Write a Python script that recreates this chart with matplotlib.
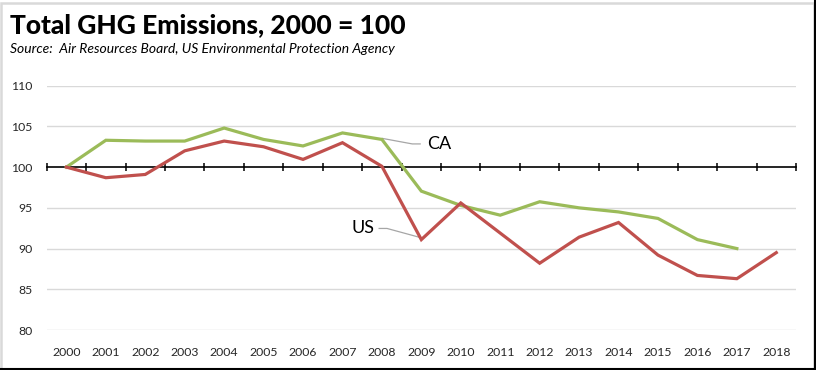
import matplotlib
matplotlib.use("Agg")
import matplotlib.pyplot as plt
import numpy as np
from matplotlib.ticker import FixedLocator
from matplotlib.patches import Rectangle
from matplotlib.lines import Line2D

years = [str(y) for y in range(2000, 2019)]
ca = [100, 103.3, 103.2, 103.2, 104.8, 103.4, 102.6, 104.2, 103.4, 97.05,
      95.3, 94.1, 95.75, 95.0, 94.5, 93.7, 91.1, 90.0]
us = [100, 98.7, 99.1, 102.0, 103.2, 102.5, 100.95, 103.0, 100.1, 91.1,
      95.6, 91.9, 88.2, 91.4, 93.2, 89.2, 86.7, 86.3, 89.5]
yticks = [80, 85, 90, 95, 100, 105, 110]

FONT = ["Lato", "DejaVu Sans"]
plt.rcParams['font.family'] = FONT

fig = plt.figure(figsize=(8.16, 3.70), dpi=100)
ax = fig.add_axes([0.0572, 0.1081, 0.9183, 0.6603])

x = np.arange(len(years))
green = "#9BBB59"
red = "#C0504D"
ax.plot(x[:len(ca)], ca, color=green, lw=2.3, solid_joinstyle="miter", zorder=3)
ax.plot(x[:len(us)], us, color=red, lw=2.3, solid_joinstyle="miter", zorder=4)

ax.set_xlim(-0.5, len(years) - 0.5)
ax.set_ylim(80, 110)
ax.set_yticks(yticks)
for yv in yticks:
    if yv != 100:
        ax.axhline(yv, color="#D9D9D9", lw=1.0, zorder=1)

for s in ["left", "right", "bottom"]:
    ax.spines[s].set_visible(False)
ax.spines["top"].set_position(("data", 100))
ax.spines["top"].set_color("black")
ax.spines["top"].set_linewidth(1.2)
ax.spines["top"].set_zorder(2)

ax.set_xticks(x)
ax.set_xticklabels(years)
ax.xaxis.set_minor_locator(FixedLocator(np.arange(-0.5, len(years), 1.0)))
ax.tick_params(axis="x", which="major", bottom=True, top=False, length=0, pad=12,
               labelsize=8.8, labelcolor="#262626")
ax.tick_params(axis="x", which="minor", bottom=False, top=True, direction="inout",
               length=5.5, width=1.1, color="black")
ax.tick_params(axis="y", length=0, pad=10, labelsize=8.8, labelcolor="#262626")

# leader lines and labels
ax.plot([8.01, 8.77, 8.97], [103.53, 102.85, 102.85], color="#A6A6A6", lw=0.9, zorder=2)
ax.text(9.15, 102.85, "CA", fontsize=13, va="center", ha="left", color="black")
ax.plot([7.93, 8.13, 8.97], [92.47, 92.47, 91.36], color="#A6A6A6", lw=0.9, zorder=2)
ax.text(7.8, 92.47, "US", fontsize=13, va="center", ha="right", color="black")

fig.text(10 / 816, 1 - 33 / 370, "Total GHG Emissions, 2000 = 100", fontsize=19,
         fontweight="black", ha="left", va="baseline", color="black")
fig.text(10 / 816, 1 - 53 / 370, "Source:  Air Resources Board, US Environmental Protection Agency",
         fontsize=10, style="italic", ha="left", va="baseline", color="black")

# frame
fig.patches.append(Rectangle((0.5 / 816, 0.5 / 370), 1 - 3 / 816, 1 - 3 / 370,
                             transform=fig.transFigure, fill=False,
                             edgecolor="#D9D9D9", lw=1.8))
fig.lines.append(Line2D([1 - 1 / 816, 1 - 1 / 816], [0, 1], transform=fig.transFigure,
                        color="black", lw=1.5))
fig.lines.append(Line2D([0, 1], [1 / 370, 1 / 370], transform=fig.transFigure,
                        color="black", lw=1.5))

fig.savefig("out.png", dpi=100)
